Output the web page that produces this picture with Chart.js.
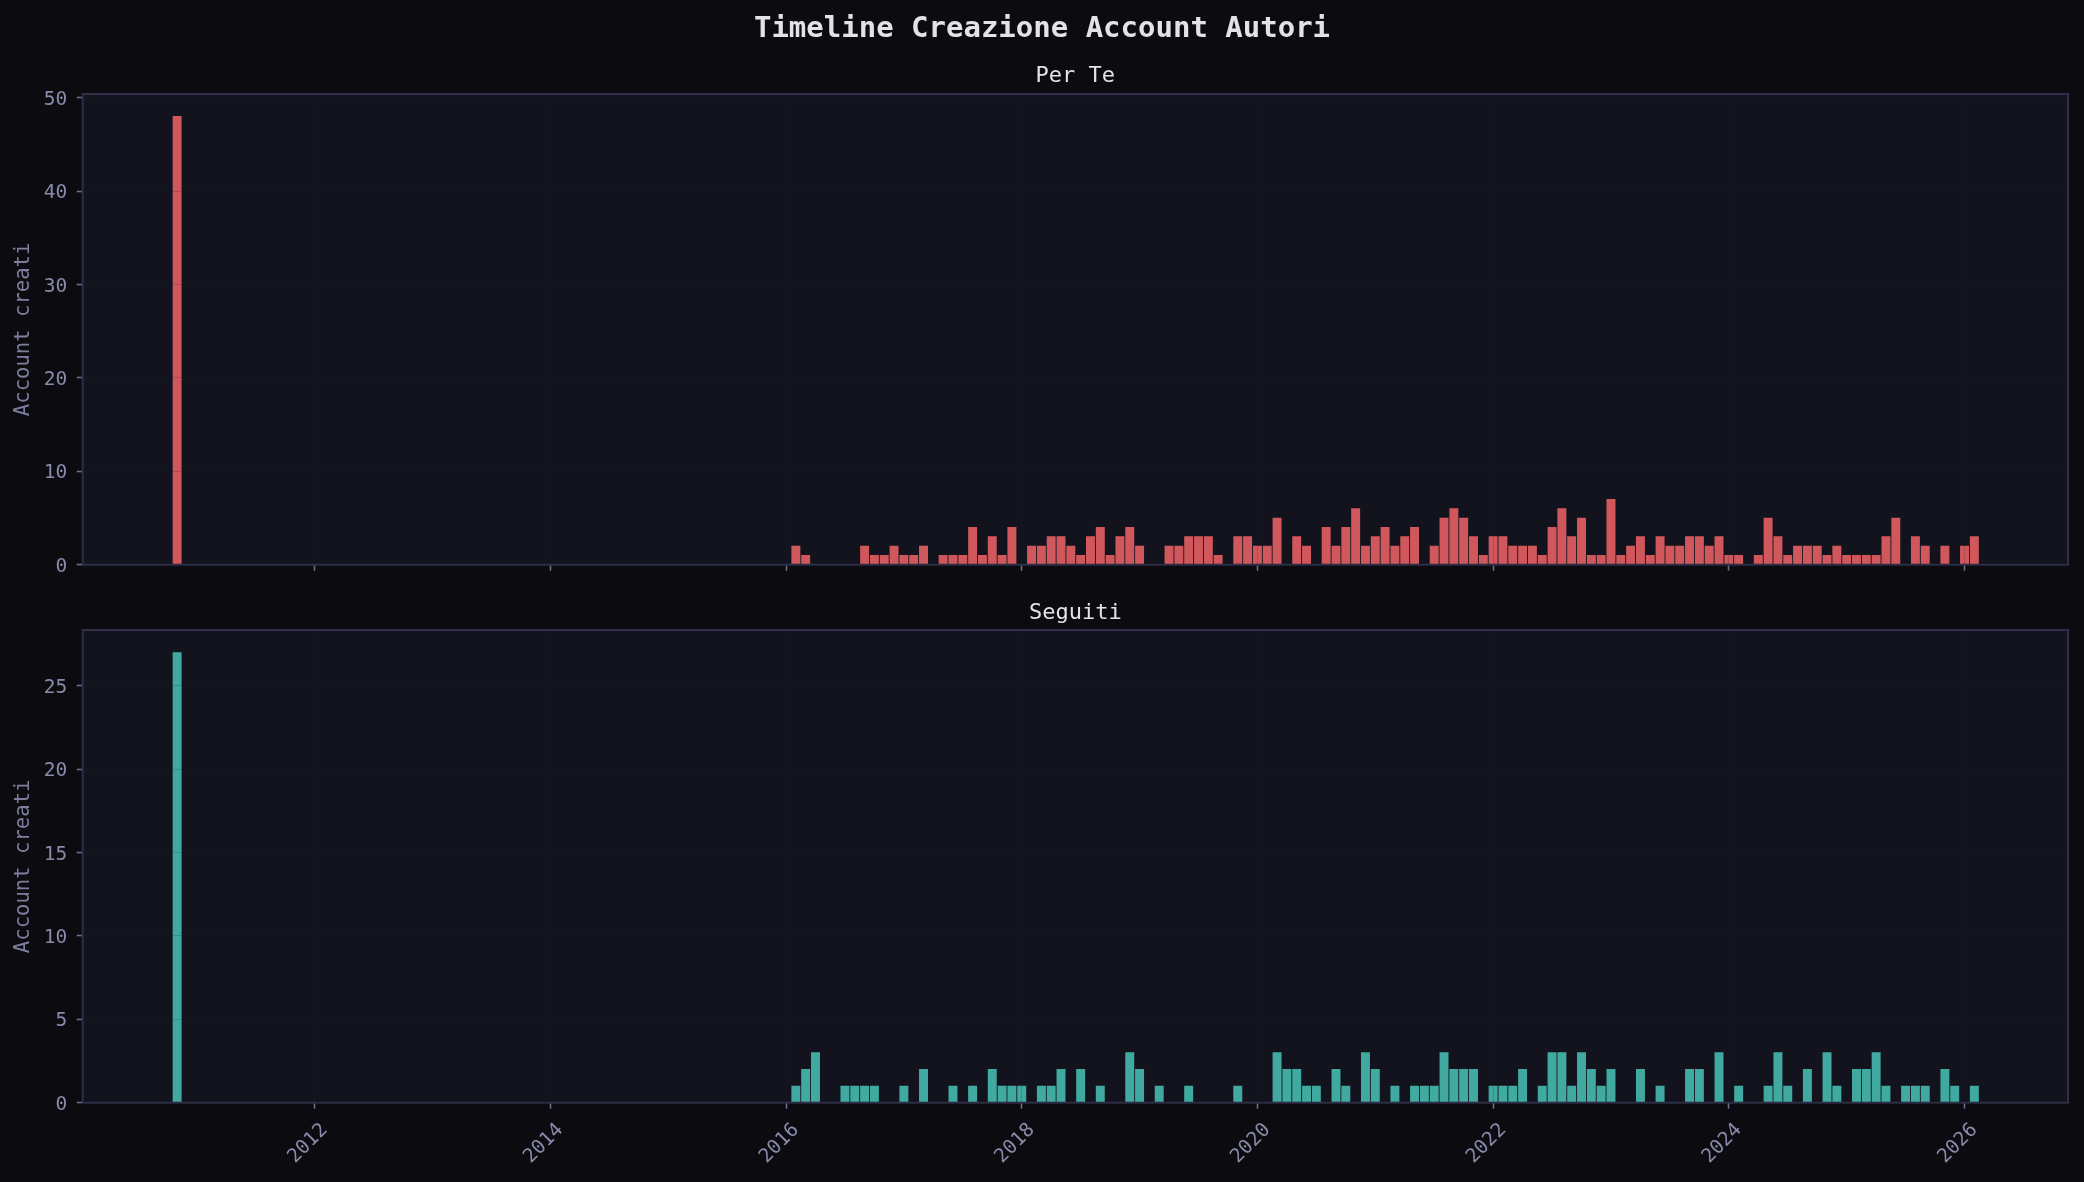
<!DOCTYPE html>
<html>
<head>
<meta charset="utf-8">
<script src="https://cdn.jsdelivr.net/npm/chart.js@4.4.1/dist/chart.umd.min.js"></script>
<style>
html,body{margin:0;padding:0;background:#0b0b10;}
#wrap{position:relative;width:2084px;height:1182px;overflow:hidden;background:#0b0b10;}
#c1{position:absolute;left:0;top:0;}
#c2{position:absolute;left:0;top:590px;}
</style>
</head>
<body>
<div id="wrap">
<canvas id="c1" width="2084" height="590" style="width:2084px;height:590px"></canvas>
<canvas id="c2" width="2084" height="592" style="width:2084px;height:592px"></canvas>
</div>
<script>
// ---- DATA ----
const figureTitle = "Timeline Creazione Account Autori";
const panelTitles = ["Per Te", "Seguiti"];
const yAxisLabel = "Account creati";

// one early isolated month (year, month)
const earlyMonth = [2010, 10];
const perTeEarly = 48;
const seguitiEarly = 27;

// monthly counts, Jan..Dec, for each year
const years = [2016, 2017, 2018, 2019, 2020, 2021, 2022, 2023, 2024, 2025, 2026];
const perTeMonthly = [
  [2,1,0,0,0,0,0,2,1,1,2,1],
  [1,2,0,1,1,1,4,1,3,1,4,0],
  [2,2,3,3,2,1,3,4,1,3,4,2],
  [0,0,2,2,3,3,3,1,0,3,3,2],
  [2,5,0,3,2,0,4,2,4,6,2,3],
  [4,2,3,4,0,2,5,6,5,3,1,3],
  [3,2,2,2,1,4,6,3,5,1,1,7],
  [1,2,3,1,3,2,2,3,3,2,3,1],
  [1,0,1,5,3,1,2,2,2,1,2,1],
  [1,1,1,3,5,0,3,2,0,2,0,2],
  [3]
];
const seguitiMonthly = [
  [1,2,3,0,0,1,1,1,1,0,0,1],
  [0,2,0,0,1,0,1,0,2,1,1,1],
  [0,1,1,2,0,2,0,1,0,0,3,2],
  [0,1,0,0,1,0,0,0,0,1,0,0],
  [0,3,2,2,1,1,0,2,1,0,3,2],
  [0,1,0,1,1,1,3,2,2,2,0,1],
  [1,1,2,0,1,3,3,1,3,2,1,2],
  [0,0,2,0,1,0,0,2,2,0,3,0],
  [1,0,0,1,3,1,0,2,0,3,1,0],
  [2,2,3,1,0,1,1,1,0,2,1,0],
  [1]
];
const xTickYears = [2012, 2014, 2016, 2018, 2020, 2022, 2024, 2026];
const perTeYTicks = [0, 10, 20, 30, 40, 50];
const seguitiYTicks = [0, 5, 10, 15, 20, 25];

// ---- helpers ----
function toPoints(early, monthly) {
  // bars sit at month-end (year + month/12)
  const pts = [{x: earlyMonth[0] + earlyMonth[1] / 12, y: early}];
  years.forEach((yr, i) => {
    monthly[i].forEach((v, m) => {
      if (v > 0) pts.push({x: yr + (m + 1) / 12, y: v});
    });
  });
  return pts;
}
function maxOf(early, monthly) {
  return Math.max(early, ...monthly.flat());
}

const FONT = "'DejaVu Sans Mono', monospace";
const BG_AXES = '#12131c';
const SPINE = '#2e2e48';
const TICK_COL = '#8a8aab';
const LABEL_COL = '#7d7d9e';
const TITLE_COL = '#e2e2e8';
const GRID_COL = 'rgba(30,30,48,0.2)';
const TICKMARK_COL = '#6c6c8c';

const X_MIN = 2010.032, X_MAX = 2026.878;

const framePlugin = {
  id: 'frame',
  beforeDraw(chart) {
    const {ctx, chartArea: a} = chart;
    ctx.save();
    ctx.fillStyle = BG_AXES;
    ctx.fillRect(a.left, a.top, a.right - a.left, a.bottom - a.top);
    ctx.restore();
  },
  afterDraw(chart) {
    const {ctx, chartArea: a} = chart;
    ctx.save();
    ctx.strokeStyle = SPINE;
    ctx.lineWidth = 2;
    ctx.strokeRect(a.left, a.top, a.right - a.left, a.bottom - a.top);
    ctx.restore();
  }
};

function makeChart(canvasId, opts) {
  const yMax = opts.maxVal * 1.05;
  return new Chart(document.getElementById(canvasId), {
    type: 'bar',
    data: {
      datasets: [{
        data: opts.points,
        backgroundColor: opts.color,
        borderWidth: 0,
        barThickness: 8.3
      }]
    },
    options: {
      responsive: false,
      animation: false,
      events: [],
      layout: {padding: {left: 16, right: 16, top: 0, bottom: 0}},
      plugins: {
        legend: {display: false},
        tooltip: {enabled: false},
        title: opts.titleOpts,
        subtitle: opts.subtitleOpts
      },
      scales: {
        x: {
          type: 'linear',
          bounds: 'data',
          offset: false,
          min: X_MIN,
          max: X_MAX,
          afterBuildTicks: s => { s.ticks = xTickYears.map(v => ({value: v})); },
          grid: {
            offset: false,
            color: GRID_COL,
            lineWidth: 1,
            z: 1,
            drawTicks: true,
            tickLength: 6,
            tickColor: TICKMARK_COL,
            tickWidth: 1.6
          },
          border: {display: false},
          ticks: {
            display: opts.showXLabels,
            autoSkip: false,
            minRotation: 45,
            maxRotation: 45,
            labelOffset: 10,
            padding: 10,
            color: TICK_COL,
            font: {family: FONT, size: 19.5},
            callback: v => String(v)
          },
          afterFit: s => { s.height = opts.xAxisHeight; }
        },
        y: {
          bounds: 'data',
          min: 0,
          max: yMax,
          afterBuildTicks: s => { s.ticks = opts.yTicks.map(v => ({value: v})); },
          grid: {
            color: GRID_COL,
            lineWidth: 1,
            z: 1,
            drawTicks: true,
            tickLength: 6,
            tickColor: TICKMARK_COL,
            tickWidth: 1.6
          },
          border: {display: false},
          ticks: {
            padding: 9.5,
            labelOffset: 2,
            color: TICK_COL,
            font: {family: FONT, size: 19.5},
            callback: v => String(v)
          },
          title: {
            display: true,
            text: yAxisLabel,
            color: LABEL_COL,
            font: {family: FONT, size: 20.6, lineHeight: 0.5},
            padding: {top: 2.6, bottom: 0}
          },
          afterFit: s => { s.width = 66.7; }
        }
      }
    },
    plugins: [framePlugin]
  });
}

makeChart('c1', {
  points: toPoints(perTeEarly, perTeMonthly),
  maxVal: maxOf(perTeEarly, perTeMonthly),
  color: 'rgb(208,88,92)',
  yTicks: perTeYTicks,
  showXLabels: false,
  xAxisHeight: 25.3,
  titleOpts: {
    display: true,
    text: figureTitle,
    color: TITLE_COL,
    fullSize: true,
    font: {family: FONT, size: 29, weight: 'bold', lineHeight: 1.2},
    padding: {top: 12.3, bottom: 15.6}
  },
  subtitleOpts: {
    display: true,
    text: panelTitles[0],
    color: TITLE_COL,
    fullSize: false,
    font: {family: FONT, size: 22, weight: 'normal', lineHeight: 1.2},
    padding: {top: 0, bottom: 4.9}
  }
});

makeChart('c2', {
  points: toPoints(seguitiEarly, seguitiMonthly),
  maxVal: maxOf(seguitiEarly, seguitiMonthly),
  color: 'rgb(65,170,160)',
  yTicks: seguitiYTicks,
  showXLabels: true,
  xAxisHeight: 79.3,
  titleOpts: {
    display: true,
    text: panelTitles[1],
    color: TITLE_COL,
    fullSize: false,
    font: {family: FONT, size: 22, weight: 'normal', lineHeight: 1.2},
    padding: {top: 10.5, bottom: 3.1}
  },
  subtitleOpts: {display: false}
});
</script>
</body>
</html>
